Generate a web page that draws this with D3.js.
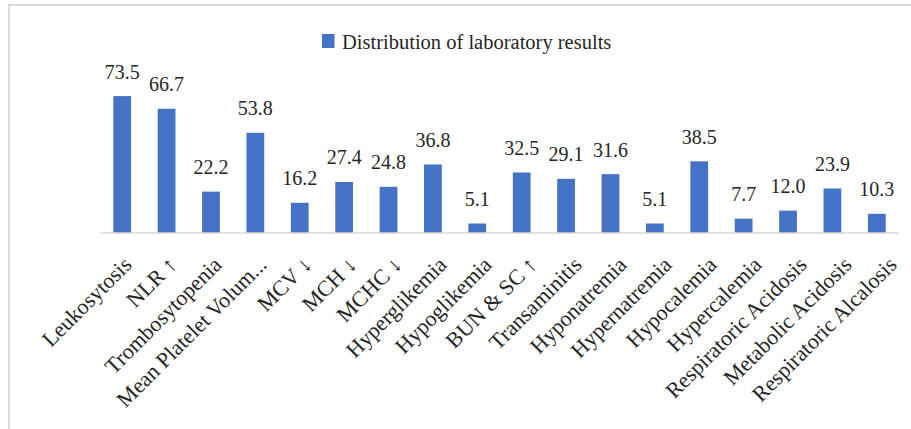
<!DOCTYPE html>
<meta charset="utf-8">
<style>

body {
  margin: 0;
}

svg text {
  font-family: "Liberation Serif", "Times New Roman", serif;
  fill: #262626;
}

.value {
  font-size: 20px;
}

.cat {
  font-size: 22px;
}

.legend text {
  font-size: 20.5px;
}

</style>
<body>

<script src="https://d3js.org/d3.v7.min.js"></script>

<script>
var categories = ['Leukosytosis', 'NLR \u2191', 'Trombosytopenia', 'Mean Platelet Volum...',
  'MCV \u2193', 'MCH \u2193', 'MCHC \u2193', 'Hyperglikemia', 'Hypoglikemia', 'BUN & SC \u2191',
  'Transaminitis', 'Hyponatremia', 'Hypernatremia', 'Hypocalemia', 'Hypercalemia',
  'Respiratoric Acidosis', 'Metabolic Acidosis', 'Respiratoric Alcalosis'];

var values = [73.5, 66.7, 22.2, 53.8, 16.2, 27.4, 24.8, 36.8, 5.1, 32.5,
  29.1, 31.6, 5.1, 38.5, 7.7, 12.0, 23.9, 10.3];

var seriesName = 'Distribution of laboratory results';

var width = 911,
    height = 429,
    plot = {left: 100, right: 899, top: 84, bottom: 233};

var svg = d3.select('body').append('svg')
    .attr('width', width)
    .attr('height', height);

// outer frame
svg.append('rect')
    .attr('x', 9)
    .attr('y', 5)
    .attr('width', 1000)
    .attr('height', 1000)
    .attr('fill', 'none')
    .attr('stroke', '#d9d9d9')
    .attr('stroke-width', 2);

var x = d3.scaleBand()
    .domain(categories)
    .range([plot.left, plot.right])
    .paddingInner(0.6)
    .paddingOuter(0.3);

var y = d3.scaleLinear()
    .domain([0, 80])
    .range([plot.bottom, plot.top]);

// rotated labels drift slightly to the right of the bars, as in the original
var labelX = d3.scalePoint()
    .domain(categories)
    .range([133, 898]);

svg.selectAll('.bar')
    .data(values)
  .enter().append('rect')
    .attr('class', 'bar')
    .attr('x', function(d, i) { return x(categories[i]); })
    .attr('width', x.bandwidth())
    .attr('y', function(d) { return y(d); })
    .attr('height', function(d) { return y(0) - y(d); })
    .attr('fill', '#4472c4');

svg.append('line')
    .attr('x1', plot.left)
    .attr('x2', plot.right)
    .attr('y1', y(0))
    .attr('y2', y(0))
    .attr('stroke', '#d9d9d9')
    .attr('stroke-width', 1.5);

svg.selectAll('.value')
    .data(values)
  .enter().append('text')
    .attr('class', 'value')
    .attr('x', function(d, i) { return x(categories[i]) + x.bandwidth() / 2; })
    .attr('y', function(d) { return y(d) - 17.5; })
    .attr('text-anchor', 'middle')
    .text(function(d) { return d.toFixed(1); });

svg.selectAll('.cat')
    .data(categories)
  .enter().append('text')
    .attr('class', 'cat')
    .attr('transform', function(d) { return 'translate(' + labelX(d) + ',266) rotate(-45)'; })
    .attr('text-anchor', 'end')
    .text(function(d) { return d; });

// legend
var legend = svg.append('g')
    .attr('class', 'legend')
    .attr('transform', 'translate(322,34)');

legend.append('rect')
    .attr('width', 12.5)
    .attr('height', 14)
    .attr('fill', '#4472c4');

legend.append('text')
    .attr('x', 20)
    .attr('y', 14.5)
    .text(seriesName);

</script>
</body>
